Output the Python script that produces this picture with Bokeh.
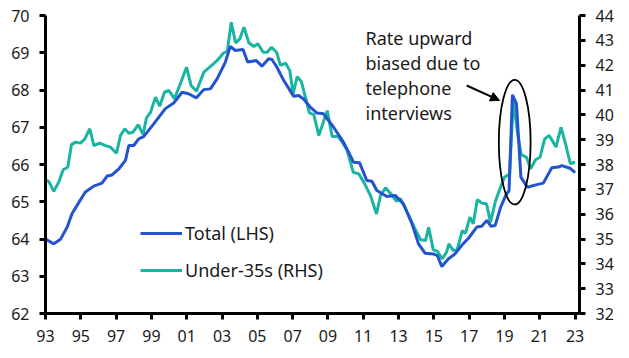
from bokeh.plotting import figure
from bokeh.models import (Range1d, LinearAxis, FixedTicker, Legend, LegendItem,
                          Arrow, NormalHead)
from bokeh.core.properties import value
from bokeh.embed import file_html
from bokeh.resources import INLINE

# ---- data ----
total_x = [1993.0, 1993.47, 1993.85, 1994.23, 1994.5, 1994.9, 1995.26, 1995.73, 1996.2, 1996.49,
           1996.77, 1997.15, 1997.53, 1997.72, 1998.0, 1998.28, 1998.56, 1999.13, 1999.79, 2000.26,
           2000.74, 2001.1, 2001.55, 2001.96, 2002.34, 2002.72, 2003.19, 2003.47, 2003.75, 2004.19,
           2004.45, 2004.94, 2005.26, 2005.64, 2005.83, 2006.11, 2006.49, 2007.06, 2007.34, 2007.62,
           2008.0, 2008.38, 2008.75, 2009.32, 2009.88, 2010.45, 2010.79, 2011.2, 2011.49, 2011.77,
           2012.34, 2012.81, 2013.28, 2013.76, 2014.13, 2014.5, 2014.98, 2015.2, 2015.45, 2015.83,
           2016.2, 2016.58, 2016.96, 2017.43, 2017.71, 2018.0, 2018.24, 2018.47, 2018.78, 2019.07,
           2019.26, 2019.45, 2019.68, 2019.93, 2020.3, 2020.83, 2021.2, 2021.68, 2022.05, 2022.24,
           2022.71, 2023.0]
total_lhs = [64.0, 63.87, 63.99, 64.32, 64.68, 64.99, 65.26, 65.42, 65.5, 65.69,
             65.72, 65.88, 66.11, 66.51, 66.51, 66.69, 66.75, 67.09, 67.5, 67.65,
             67.94, 67.9, 67.79, 68.01, 68.03, 68.3, 68.75, 69.17, 69.06, 69.09,
             68.75, 68.79, 68.64, 68.84, 68.82, 68.61, 68.26, 67.83, 67.85, 67.76,
             67.54, 67.38, 67.36, 67.0, 66.6, 66.06, 66.05, 65.57, 65.55, 65.3,
             65.14, 65.17, 64.94, 64.41, 63.87, 63.62, 63.6, 63.55, 63.26, 63.47,
             63.6, 63.83, 64.02, 64.32, 64.34, 64.5, 64.34, 64.36, 64.85, 65.17,
             65.3, 67.87, 67.63, 65.66, 65.39, 65.46, 65.5, 65.91, 65.93, 65.97,
             65.9, 65.78]

u35_x = [1993.0, 1993.19, 1993.47, 1993.75, 1994.0, 1994.26, 1994.47, 1994.7, 1994.98, 1995.23,
         1995.51, 1995.74, 1996.06, 1996.4, 1996.68, 1997.02, 1997.25, 1997.49, 1997.72, 1997.96,
         1998.25, 1998.53, 1998.72, 1998.95, 1999.23, 1999.47, 1999.74, 1999.99, 2000.3, 2000.61,
         2000.99, 2001.25, 2001.55, 2001.97, 2002.35, 2002.73, 2003.07, 2003.3, 2003.52, 2003.77,
         2004.01, 2004.24, 2004.52, 2004.8, 2005.03, 2005.33, 2005.56, 2005.8, 2006.09, 2006.31,
         2006.6, 2006.84, 2007.03, 2007.26, 2007.5, 2007.95, 2008.2, 2008.48, 2008.96, 2009.24,
         2009.56, 2009.81, 2010.09, 2010.43, 2010.75, 2011.03, 2011.41, 2011.75, 2011.98, 2012.26,
         2012.64, 2012.89, 2013.11, 2013.49, 2013.87, 2014.25, 2014.53, 2014.7, 2014.97, 2015.19,
         2015.47, 2015.72, 2015.85, 2016.1, 2016.32, 2016.61, 2016.79, 2017.04, 2017.23, 2017.46,
         2017.74, 2017.98, 2018.21, 2018.5, 2018.78, 2019.0, 2019.29, 2019.5, 2019.76, 2019.95,
         2020.25, 2020.48, 2020.76, 2021.01, 2021.28, 2021.53, 2021.72, 2021.92, 2022.2, 2022.46,
         2022.73, 2023.0]
under35_rhs = [37.38, 37.31, 36.92, 37.29, 37.79, 37.89, 38.8, 38.9, 38.86, 39.03,
               39.44, 38.76, 38.86, 38.76, 38.7, 38.45, 39.17, 39.44, 39.26, 39.3,
               39.6, 39.21, 39.88, 40.1, 40.71, 40.35, 40.91, 40.98, 40.65, 41.2,
               41.92, 41.18, 40.95, 41.72, 41.95, 42.19, 42.48, 42.56, 43.73, 42.9,
               43.06, 43.53, 42.9, 42.75, 42.86, 42.52, 42.52, 42.72, 42.52, 41.99,
               42.08, 41.78, 40.85, 41.54, 41.33, 40.08, 40.01, 39.17, 40.17, 39.13,
               39.13, 38.9, 38.56, 37.69, 37.62, 37.29, 36.75, 36.01, 36.75, 37.06,
               36.75, 36.52, 36.62, 36.08, 35.5, 34.97, 34.94, 35.47, 34.56, 34.51,
               34.2, 34.47, 34.8, 34.54, 34.56, 35.34, 35.23, 35.88, 35.61, 36.58,
               36.44, 36.42, 35.68, 36.55, 37.09, 37.49, 37.62, 40.6, 39.17, 38.4,
               38.29, 37.83, 38.19, 38.29, 39.03, 39.17, 38.95, 38.7, 39.5, 38.83,
               38.03, 38.1]

x_ticks = [1993, 1995, 1997, 1999, 2001, 2003, 2005, 2007, 2009, 2011, 2013, 2015, 2017, 2019, 2021, 2023]
x_tick_labels = ["93", "95", "97", "99", "01", "03", "05", "07", "09", "11", "13", "15", "17", "19", "21", "23"]
lhs_ticks = [62, 63, 64, 65, 66, 67, 68, 69, 70]
rhs_ticks = [32, 33, 34, 35, 36, 37, 38, 39, 40, 41, 42, 43, 44]

annotation_lines = ["Rate upward", "biased due to", "telephone", "interviews"]

BLUE = "#2453CF"
TEAL = "#1AB4A2"
FONT = "Noto Sans"
TXT = "#1a1a1a"

p = figure(width=621, height=350, output_backend="svg", toolbar_location=None,
           x_range=Range1d(1993, 2023.25), y_range=Range1d(62, 70),
           min_border_left=45, min_border_right=42, min_border_top=15, min_border_bottom=37)
p.extra_y_ranges = {"rhs": Range1d(32, 44)}
p.outline_line_color = None
p.xgrid.visible = False
p.ygrid.visible = False
p.background_fill_color = "white"

def style_axis(ax):
    ax.axis_line_color = "black"
    ax.axis_line_width = 3
    ax.major_tick_line_color = "black"
    ax.major_tick_line_width = 3
    ax.major_tick_out = 6
    ax.major_tick_in = 0
    ax.minor_tick_line_color = None
    ax.major_label_text_font = FONT
    ax.major_label_text_font_size = "16px"
    ax.major_label_text_color = TXT
    ax.major_label_standoff = 10

p.xaxis.ticker = FixedTicker(ticks=x_ticks)
p.xaxis.major_label_overrides = {t: l for t, l in zip(x_ticks, x_tick_labels)}
p.yaxis.ticker = FixedTicker(ticks=lhs_ticks)
style_axis(p.xaxis[0])
style_axis(p.yaxis[0])

rax = LinearAxis(y_range_name="rhs", ticker=FixedTicker(ticks=rhs_ticks))
style_axis(rax)
p.add_layout(rax, "right")

r_total = p.line(total_x, total_lhs, line_color=BLUE, line_width=3)
r_u35 = p.line(u35_x, under35_rhs, line_color=TEAL, line_width=3, y_range_name="rhs")
p.renderers.remove(r_total)
p.renderers.append(r_total)

# annotation
p.ellipse(x=2019.58, y=66.6, width=1.8, height=3.35, fill_alpha=0,
          line_color="black", line_width=1.8)
p.add_layout(Arrow(end=NormalHead(size=9, fill_color="black", line_color="black"),
                   x_start=2016.86, y_start=68.12, x_end=2018.72, y_end=67.72,
                   line_color="black", line_width=2))
ann_y = [69.4, 68.73, 68.06, 67.39]
p.text(x=[2011.13] * 4, y=ann_y, text=annotation_lines, text_font=value(FONT),
       text_font_size="18px", text_color=TXT, text_baseline="alphabetic", text_align="left")

legend = Legend(items=[LegendItem(label="Total (LHS)", renderers=[r_total]),
                       LegendItem(label="Under-35s (RHS)", renderers=[r_u35])],
                location=(95, 31), orientation="vertical")
legend.label_text_font = FONT
legend.label_text_font_size = "18px"
legend.label_text_color = TXT
legend.glyph_width = 42
legend.glyph_height = 20
legend.label_height = 20
legend.spacing = 13
legend.label_standoff = 3
legend.padding = 0
legend.margin = 0
legend.border_line_alpha = 0
legend.background_fill_alpha = 0
p.add_layout(legend, "center")

open("out.html", "w").write(file_html(p, INLINE))
